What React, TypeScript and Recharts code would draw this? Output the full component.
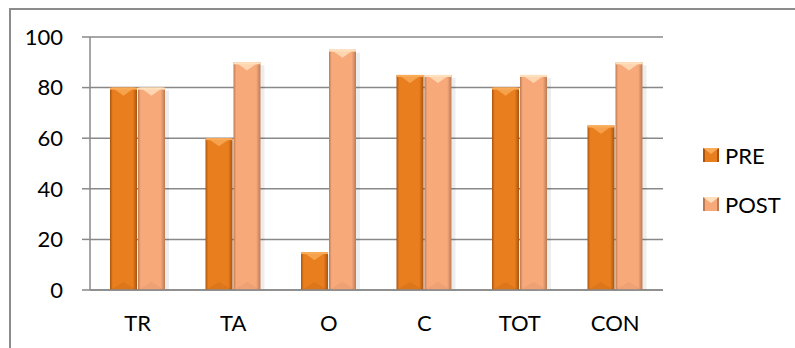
import React from 'react';
import { BarChart, Bar, XAxis, YAxis, CartesianGrid } from 'recharts';

const categories = ['TR', 'TA', 'O', 'C', 'TOT', 'CON'];
const preValues = [80, 60, 15, 85, 80, 65];
const postValues = [80, 90, 95, 85, 85, 90];
const yTicks = [0, 20, 40, 60, 80, 100];
const seriesNames = ['PRE', 'POST'];

const FONT = 'Lato, "Open Sans", sans-serif';
const GRID = '#898989';

const palette: Record<string, { edge: string; body: string; light: string; dark: string }> = {
  pre: { edge: '#a8530f', body: '#e97e1e', light: '#f9ab58', dark: '#8a420a' },
  post: { edge: '#bb7b55', body: '#f7a97a', light: '#ffe0bd', dark: '#a86a46' },
};

const data = categories.map((name, i) => ({
  name,
  pre: preValues[i],
  post: postValues[i],
  idx: i + 0.5,
}));

function BevelBar(props: any) {
  const { x, y, width, height, kind } = props;
  if (!height || height <= 0) return null;
  const c = palette[kind];
  const b = Math.min(width * 0.3, height);
  return (
    <g>
      <rect x={x + width} y={y + 3} width={4} height={height - 3} fill="#000" opacity={0.07} />
      <rect x={x} y={y} width={width} height={height} fill={`url(#grad-${kind})`} />
      <polygon
        points={`${x + 2},${y} ${x + width - 2},${y} ${x + width / 2},${y + b}`}
        fill={c.light}
        opacity={0.8}
      />
      <rect x={x} y={y} width={width} height={2} fill={c.light} />
      <polygon
        points={`${x},${y + height} ${x + width},${y + height} ${x + width / 2},${y + height - b}`}
        fill={c.dark}
        opacity={0.12}
      />
    </g>
  );
}

function Swatch({ kind }: { kind: string }) {
  const c = palette[kind];
  return (
    <svg width={16} height={14} style={{ display: 'block' }}>
      <rect x={0} y={0} width={16} height={14} fill={c.body} />
      <rect x={0} y={0} width={2} height={14} fill={c.edge} />
      <rect x={14} y={0} width={2} height={14} fill={c.edge} />
      <polygon points="0,0 16,0 8,6" fill={c.light} />
    </svg>
  );
}

export default function App() {
  return (
    <div
      style={{
        position: 'absolute',
        left: 0,
        top: 0,
        width: 795,
        height: 348,
        overflow: 'hidden',
        background: '#fff',
        fontFamily: FONT,
      }}
    >
      <div
        style={{
          position: 'absolute',
          left: 9,
          top: 8,
          width: 900,
          height: 500,
          border: '2px solid #8c8c8c',
        }}
      />
      <div style={{ position: 'absolute', left: 0, top: 0 }}>
        <BarChart
          width={795}
          height={348}
          data={data}
          margin={{ top: 37, right: 132, bottom: 0, left: 30 }}
          barSize={27}
          barGap={1}
        >
          <defs>
            {Object.keys(palette).map((k) => (
              <linearGradient key={k} id={`grad-${k}`} x1="0" y1="0" x2="1" y2="0">
                <stop offset="0%" stopColor={palette[k].edge} />
                <stop offset="10%" stopColor={palette[k].body} />
                <stop offset="84%" stopColor={palette[k].body} />
                <stop offset="100%" stopColor={palette[k].edge} />
              </linearGradient>
            ))}
          </defs>
          <CartesianGrid vertical={false} stroke={GRID} strokeWidth={1.5} />
          <XAxis
            xAxisId="bounds"
            type="number"
            dataKey="idx"
            domain={[0, 6]}
            ticks={[0, 1, 2, 3, 4, 5, 6]}
            tick={() => null}
            tickSize={7}
            tickLine={{ stroke: GRID, strokeWidth: 1.5 }}
            axisLine={false}
            height={0}
            allowDataOverflow
          />
          <XAxis
            dataKey="name"
            tickLine={false}
            tickSize={0}
            tickMargin={25}
            height={58}
            axisLine={{ stroke: GRID, strokeWidth: 1.5 }}
            tick={{ fill: '#000', fontSize: 22, fontFamily: FONT }}
            interval={0}
          />
          <YAxis
            width={60}
            domain={[0, 100]}
            ticks={yTicks}
            tickSize={8}
            tickMargin={19}
            axisLine={{ stroke: GRID, strokeWidth: 1.5 }}
            tickLine={{ stroke: GRID, strokeWidth: 1.5 }}
            tick={{ fill: '#000', fontSize: 22, fontFamily: FONT }}
          />
          <Bar
            dataKey="pre"
            name={seriesNames[0]}
            fill={palette.pre.body}
            isAnimationActive={false}
            shape={(p: any) => <BevelBar {...p} kind="pre" />}
          />
          <Bar
            dataKey="post"
            name={seriesNames[1]}
            fill={palette.post.body}
            isAnimationActive={false}
            shape={(p: any) => <BevelBar {...p} kind="post" />}
          />
        </BarChart>
      </div>
      <div style={{ position: 'absolute', left: 703, top: 142 }}>
        {seriesNames.map((n, i) => (
          <div
            key={n}
            style={{ display: 'flex', alignItems: 'center', height: 26, marginBottom: i === 0 ? 23 : 0 }}
          >
            <Swatch kind={i === 0 ? 'pre' : 'post'} />
            <span style={{ marginLeft: 6, fontSize: 22, color: '#000' }}>{n}</span>
          </div>
        ))}
      </div>
    </div>
  );
}
